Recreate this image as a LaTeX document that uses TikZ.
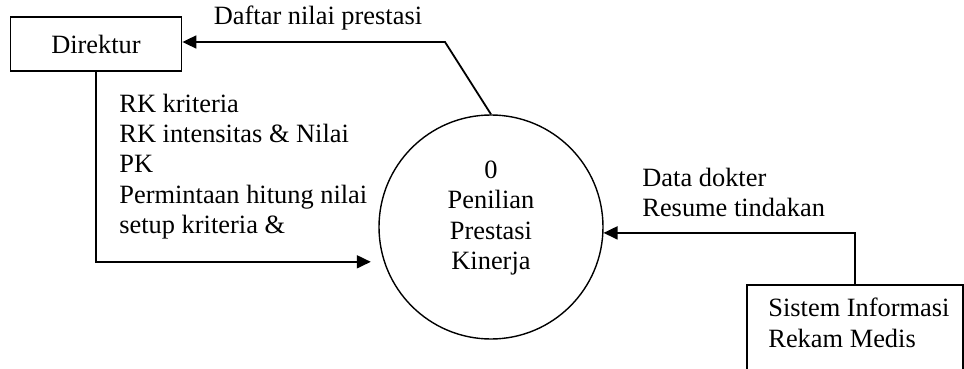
\documentclass[tikz,border=0pt]{standalone}
\usepackage{fontspec}
\setmainfont{Liberation Serif}
\usetikzlibrary{arrows.meta}

\begin{document}
\begin{tikzpicture}[x=0.5pt, y=-0.5pt,
        every node/.style={font=\fontsize{13.2}{15.2}\selectfont},
        entity/.style={draw, line width=0.9pt, inner sep=0pt},
        proses/.style={draw, circle, line width=0.7pt, minimum size=112pt, inner sep=0pt},
        flow/.style={line width=0.9pt, -{Triangle[length=7pt, width=6.5pt]}},
        teks/.style={align=left, anchor=west, inner sep=0pt}]
    \useasboundingbox (0,0) rectangle (964,369);

    \node[entity, minimum width=85.5pt, minimum height=27pt] (dir) at (96, 44) {Direktur};
    \node[proses]         (proc)     at (491,227) {};
    \node[align=center]   (proc-txt) at (491,218) {0\\Penilian\\Prestasi\\Kinerja};
    \node[entity, anchor=north, minimum width=108pt, minimum height=60pt] (sim) at (855,284) {};
    \node[teks]           (sim-txt)  at (768,323) {Sistem Informasi\\Rekam Medis};

    \coordinate (bend) at (445,42);
    \draw[flow] (proc.north) -- (bend) -- (bend -| dir.east);
    \draw[flow, shorten >=6.5pt] (dir.south) |- (proc.198);
    \draw[flow] (sim.north) |- (proc.357);

    \node                 (lbl-daftar) at (318, 18)   {Daftar nilai prestasi};
    \node[teks]           (lbl-rk)     at (119,166.5) {RK kriteria\\RK intensitas \& Nilai\\PK\\Permintaan hitung nilai\\setup kriteria \&};
    \node[teks]           (lbl-data)   at (642,192.5) {Data dokter\\Resume tindakan};
\end{tikzpicture}
\end{document}
